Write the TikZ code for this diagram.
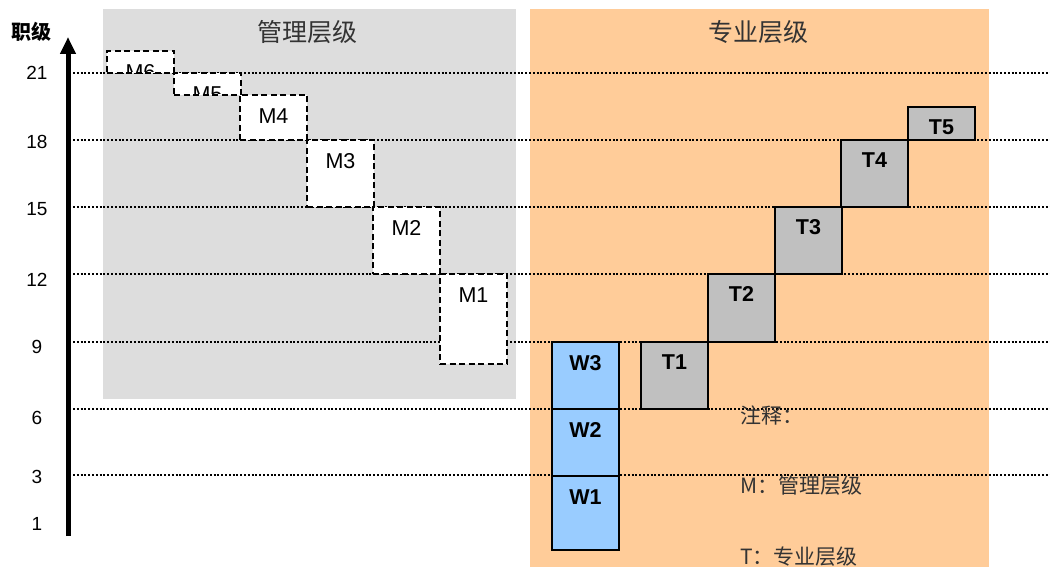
\documentclass[tikz,border=0pt]{standalone}
\usepackage{fontspec}
\setmainfont{Liberation Sans}
\newfontfamily\cjk{Noto Sans CJK SC}
\usetikzlibrary{arrows.meta,calc}
\definecolor{bggray}{HTML}{DDDDDD}
\definecolor{bgorange}{HTML}{FFCC99}
\definecolor{tgray}{HTML}{C0C0C0}
\definecolor{wblue}{HTML}{99CCFF}
\definecolor{txtgray}{HTML}{333333}
\begin{document}
\begin{tikzpicture}[x=1pt,y=-1pt,
  bgarea/.style={draw=none, inner sep=0pt, outer sep=0pt, anchor=north west},
  mbox/.style={draw=black, fill=white, line width=1.6pt, dash pattern=on 6pt off 3.5pt, inner sep=0pt, outer sep=0pt, anchor=north west},
  tbox/.style={draw=black, fill=tgray, line width=1.8pt, inner sep=0pt, outer sep=0pt, anchor=north west},
  wbox/.style={draw=black, fill=wblue, line width=1.8pt, inner sep=0pt, outer sep=0pt, anchor=north west},
  mlab/.style={font=\fontsize{21.5}{21.5}\selectfont, inner sep=0pt},
  blab/.style={font=\fontsize{21.5}{21.5}\selectfont\bfseries, inner sep=0pt},
  gridline/.style={line width=1.9pt, dash pattern=on 1.9pt off 1.9pt},
  numlab/.style={font=\fontsize{19}{19}\selectfont, inner sep=0pt},
  title/.style={font=\cjk\fontsize{25}{25}\selectfont, text=txtgray, inner sep=0pt},
  note/.style={font=\cjk\fontsize{21}{21}\selectfont, text=txtgray, inner sep=0pt, anchor=west}
]
\useasboundingbox (0,0) rectangle (1050,572);

% backgrounds
\node[bgarea, fill=bggray, minimum width=413pt, minimum height=390pt] (gbg) at (103,9) {};
\node[bgarea, fill=bgorange, minimum width=459pt, minimum height=558pt] (obg) at (530,9) {};

% titles
\node[title] (t1) at (307,32) {管理层级};
\node[title] (t2) at (758,32) {专业层级};

% grid lines
\foreach \n/\y in {21/73,18/140,15/207,12/274,9/342,6/409,3/475}{
  \coordinate (gl\n) at (73,\y);
  \coordinate (gr\n) at (1050,\y);
  \draw[gridline] (gl\n) -- (gr\n);
}

% M boxes (dashed)
\node[mbox, minimum width=67pt, minimum height=22pt] (M6) at (107,51) {};
\node[mbox, minimum width=67pt, minimum height=22pt] (M5) at (174,73) {};
\node[mbox, minimum width=67pt, minimum height=45pt] (M4) at (240,95) {};
\node[mbox, minimum width=67pt, minimum height=67pt] (M3) at (307,140) {};
\node[mbox, minimum width=67pt, minimum height=67pt] (M2) at (373,207) {};
\node[mbox, minimum width=67pt, minimum height=90pt] (M1) at (440,274) {};
\foreach \m in {M6,M5,M4,M3,M2,M1}{
  \begin{scope}
    \clip ($(\m.north west)+(1,1)$) rectangle ($(\m.south east)+(-1,-1)$);
    \node[mlab] (\m l) at ($(\m.north)+(0,21)$) {\m};
  \end{scope}
}

% T boxes
\node[tbox, minimum width=67pt, minimum height=67pt] (T1) at (641,342) {};
\node[tbox, minimum width=67pt, minimum height=68pt] (T2) at (708,274) {};
\node[tbox, minimum width=67pt, minimum height=67pt] (T3) at (775,207) {};
\node[tbox, minimum width=67pt, minimum height=67pt] (T4) at (841,140) {};
\node[tbox, minimum width=67pt, minimum height=33pt] (T5) at (908,107) {};
\foreach \m in {T1,T2,T3,T4,T5}{
  \node[blab] (\m l) at ($(\m.north)+(0,20)$) {\m};
}

% W boxes
\node[wbox, minimum width=67pt, minimum height=67pt] (W3) at (552,342) {};
\node[wbox, minimum width=67pt, minimum height=67pt] (W2) at (552,409) {};
\node[wbox, minimum width=67pt, minimum height=74pt] (W1) at (552,476) {};
\foreach \m in {W3,W2,W1}{
  \node[blab] (\m l) at ($(\m.north)+(0,21)$) {\m};
}

% axis
\coordinate (axb) at (68,536);
\coordinate (axt) at (68,37);
\draw[line width=5pt, -{Triangle[width=15pt,length=17pt]}] (axb) -- (axt);
\node[font=\cjk\fontsize{20}{20}\selectfont\bfseries, inner sep=0pt] (axl) at (32,32) {职级};
\foreach \n/\y in {21/73,18/142,15/209,12/280,9/347,6/418,3/477,1/524}{
  \node[numlab] (n\n) at (37,\y) {\n};
}

% notes
\node[note] (a1) at (740,415) {注释：};
\node[note] (a2) at (740,486) {M：管理层级};
\node[note] (a3) at (740,557) {T：专业层级};
\end{tikzpicture}
\end{document}
